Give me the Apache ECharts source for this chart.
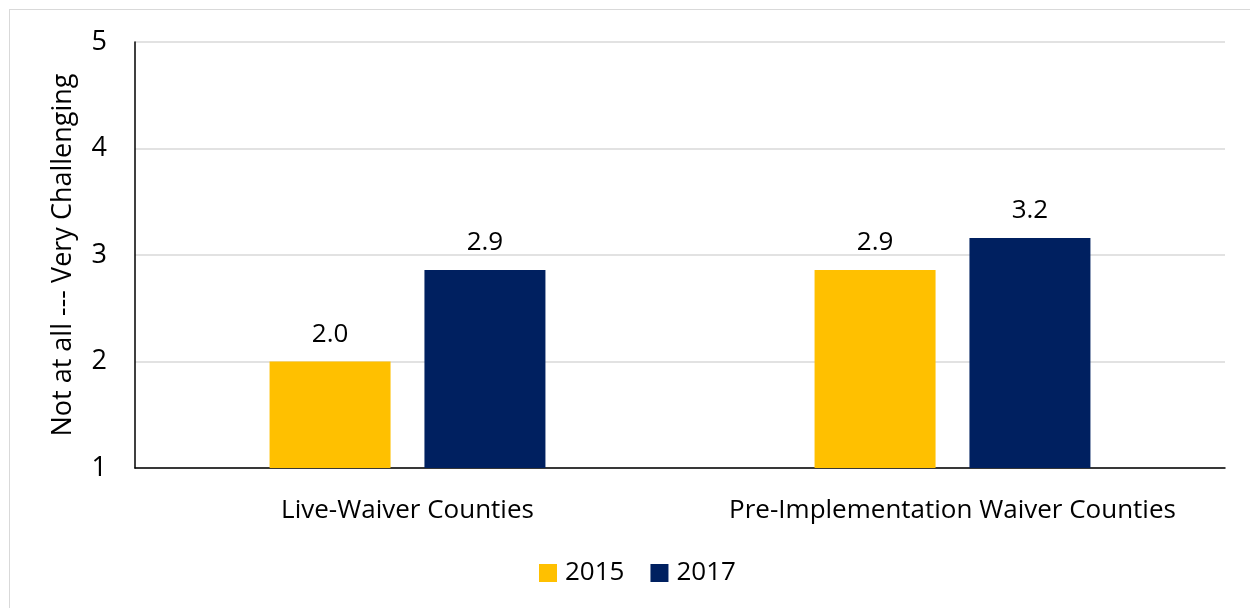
<!DOCTYPE html>
<html>
<head>
<meta charset="utf-8">
<script src="https://cdn.jsdelivr.net/npm/echarts@6/dist/echarts.min.js"></script>
<style>
  html, body { margin: 0; padding: 0; background: #fff; }
  #frame { position: absolute; left: 9px; top: 9px; width: 1250px; height: 610px; border: 1px solid #d9d9d9; }
  #chart { position: absolute; left: 0; top: 0; width: 1250px; height: 608px; }
</style>
</head>
<body>
<div id="frame"></div>
<div id="chart"></div>
<script>
const categories = ['Live-Waiver Counties', 'Pre-Implementation Waiver Counties'];
const years = ['2015', '2017'];
const values2015 = [2.0, 2.86];
const values2017 = [2.86, 3.16];
const yTicks = [1, 2, 3, 4, 5];

const FONT = '"Open Sans", "Noto Sans", sans-serif';
const colors = ['#ffc000', '#002060'];

var chart = echarts.init(document.getElementById('chart'));
chart.setOption({
  animation: false,
  grid: { left: 135, right: 25, top: 42, bottom: 140, containLabel: false },
  legend: {
    data: years,
    bottom: 17,
    left: 534,
    itemWidth: 18,
    itemHeight: 18,
    itemGap: 26,
    icon: 'rect',
    textStyle: { fontFamily: FONT, fontSize: 26, color: '#000', padding: [0, 0, 0, 3] }
  },
  xAxis: {
    type: 'category',
    data: categories,
    axisLine: { lineStyle: { color: '#000', width: 1.5 } },
    axisTick: { show: false },
    axisLabel: {
      interval: 0, hideOverlap: false,
      fontFamily: FONT, fontSize: 26, color: '#000', margin: 30
    }
  },
  yAxis: {
    type: 'value',
    min: yTicks[0],
    max: yTicks[yTicks.length - 1],
    interval: 1,
    name: 'Not at all --- Very Challenging',
    nameLocation: 'middle',
    nameGap: 58,
    nameTextStyle: { fontFamily: FONT, fontSize: 27, color: '#000' },
    axisLine: { show: true, lineStyle: { color: '#000', width: 1.5 } },
    axisTick: { show: false },
    axisLabel: { fontFamily: FONT, fontSize: 27, color: '#000', margin: 28 },
    splitLine: { lineStyle: { color: '#d9d9d9', width: 1.5 } }
  },
  series: [
    {
      name: years[0],
      type: 'bar',
      data: values2015,
      barWidth: 121,
      barGap: '28%',
      itemStyle: { color: colors[0] },
      label: {
        show: true, position: 'top', distance: 14,
        fontFamily: FONT, fontSize: 26, color: '#000',
        formatter: p => p.value.toFixed(1)
      }
    },
    {
      name: years[1],
      type: 'bar',
      data: values2017,
      barWidth: 121,
      itemStyle: { color: colors[1] },
      label: {
        show: true, position: 'top', distance: 14,
        fontFamily: FONT, fontSize: 26, color: '#000',
        formatter: p => p.value.toFixed(1)
      }
    }
  ]
});
</script>
</body>
</html>
